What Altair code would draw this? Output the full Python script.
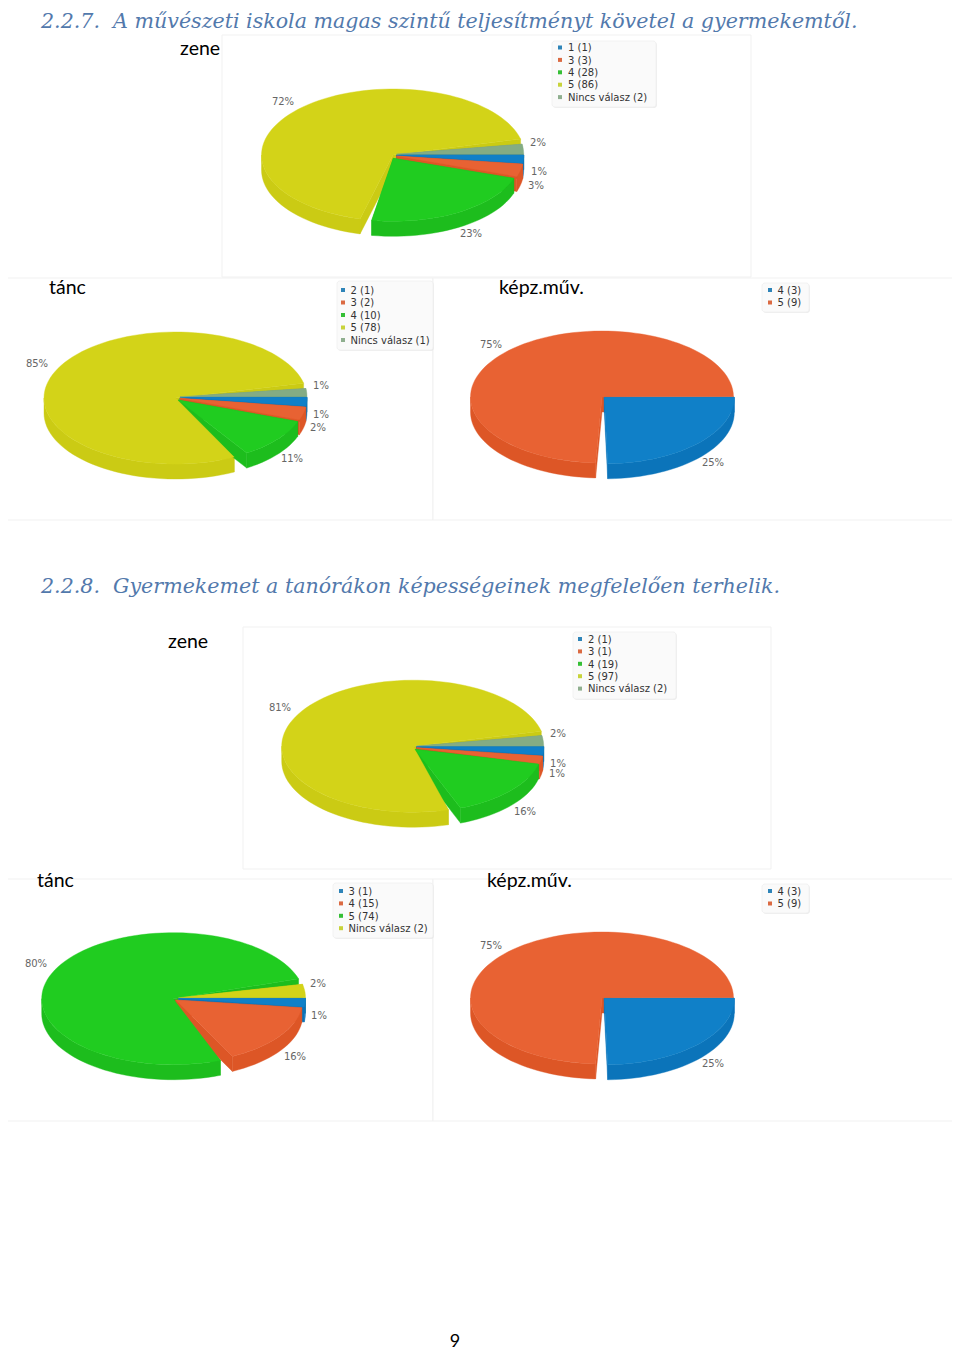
import math
import altair as alt
import pandas as pd

alt.data_transformers.disable_max_rows()

W, H = 960, 1351

# ---- colours ----
BLUE, RED, GREEN, YEL, GRAY = "#1080C8", "#E86233", "#20CC20", "#D3D318", "#84AC84"
DARK = {BLUE: "#0B74BA", RED: "#DD5626", GREEN: "#1DBD1D", YEL: "#CBCB14", GRAY: "#76A076"}
LEGMARK = {BLUE: "#2E84B8", RED: "#DB6A42", GREEN: "#35BF35", YEL: "#C8D33A", GRAY: "#8FAF8F"}

# ---- values ----
legend_1 = ["1 (1)", "3 (3)", "4 (28)", "5 (86)", "Nincs válasz (2)"]
colors_1 = [BLUE, RED, GREEN, YEL, GRAY]
pct_1 = ["1%", "3%", "23%", "72%", "2%"]
angles_1 = [(0, 7.5), (7.3, 19), (18.5, 99.8), (104.5, 346), (-9, 0)]

legend_2 = ["2 (1)", "3 (2)", "4 (10)", "5 (78)", "Nincs válasz (1)"]
colors_2 = [BLUE, RED, GREEN, YEL, GRAY]
pct_2 = ["1%", "2%", "11%", "85%", "1%"]
angles_2 = [(0, 8), (8, 20), (20, 57.4), (63.5, 347), (-7.5, 0)]

legend_3 = ["4 (3)", "5 (9)"]
colors_3 = [BLUE, RED]
pct_3 = ["25%", "75%"]
angles_3 = [(0, 88.5), (92.8, 359.5)]

legend_4 = ["2 (1)", "3 (1)", "4 (19)", "5 (97)", "Nincs válasz (2)"]
colors_4 = [BLUE, RED, GREEN, YEL, GRAY]
pct_4 = ["1%", "1%", "16%", "81%", "2%"]
angles_4 = [(0, 7.5), (7.6, 15), (13.5, 69), (74.5, 347), (-9.5, 0)]

legend_5 = ["3 (1)", "4 (15)", "5 (74)", "Nincs válasz (2)"]
colors_5 = [BLUE, RED, GREEN, YEL]
pct_5 = ["1%", "16%", "80%", "2%"]
angles_5 = [(0, 8), (7, 63.5), (69, 342.5), (-12.3, 0)]

legend_6 = ["4 (3)", "5 (9)"]
colors_6 = [BLUE, RED]
pct_6 = ["25%", "75%"]
angles_6 = [(0, 88.5), (92.8, 359.5)]

headings = ["2.2.7.\u00a0 A művészeti iskola magas szintű teljesítményt követel a gyermekemtől.",
            "2.2.8.\u00a0 Gyermekemet a tanórákon képességeinek megfelelően terhelik."]
names = ["zene", "tánc", "képz.műv.", "zene", "tánc", "képz.műv."]
page_no = ["9"]

# ---- layout ----
heading_pos = [(41, 27.5), (41, 593)]
name_pos = [(180, 55), (49, 294), (499, 294), (168, 648), (37, 887), (487, 887)]
panels = [(222, 35, 751, 277), (6, 278, 433, 520), (433, 278, 960, 520),
          (243, 627, 771, 869), (4, 879, 433, 1121), (433, 879, 960, 1121)]
legboxes = [(552, 41, 656, 107), (337, 281, 433, 350), (762, 283, 809, 312),
            (573, 632, 676, 699), (333, 883, 433, 938), (762, 884, 809, 913)]
legrows = [(560, 568, 47.5, 12.4), (343, 350.5, 290, 12.5), (770, 777.5, 290, 12.5),
           (580, 588, 639, 12.4), (341, 348.5, 891, 12.4), (770, 777.5, 891, 12.5)]
# per slice: cx, cy, rx, ry
R1, R2 = (127, 63), (131.5, 66)
centres = [
    [(396.7, 155, *R1), (396.7, 156, *R1), (393.3, 158.3, *R1), (393, 155, *R2), (396.7, 154, *R1)],
    [(180, 397.3, *R1), (180, 398.3, *R1), (178.3, 400, *R1), (175.5, 398, *R2), (180, 396.7, *R1)],
    [(604.3, 397.3, 130, 66.5), (602, 397, *R2)],
    [(416.7, 746.7, *R1), (416.7, 747.7, *R1), (415, 749.3, *R1), (413.2, 746.2, *R2), (416.7, 746, *R1)],
    [(178.5, 998.3, *R1), (175.7, 1000, *R1), (173.2, 998.7, *R2), (178.5, 997.7, *R1)],
    [(604.3, 998.3, 130, 66.5), (602, 998, *R2)],
]
DEPTH = 15
TEXT_NUDGE = 0.7
pct_pos = [
    [(539, 171), (536, 185), (471, 233), (283, 101), (538, 142)],
    [(321, 414), (318, 427), (292, 458), (37, 363), (321, 385)],
    [(713, 462), (491, 344)],
    [(558, 763), (557, 773), (525, 811), (280, 707), (558, 733)],
    [(319, 1015), (295, 1056), (36, 963), (318, 983)],
    [(713, 1063), (491, 945)],
]

all_legends = [legend_1, legend_2, legend_3, legend_4, legend_5, legend_6]
all_colors = [colors_1, colors_2, colors_3, colors_4, colors_5, colors_6]
all_pct = [pct_1, pct_2, pct_3, pct_4, pct_5, pct_6]
all_angles = [angles_1, angles_2, angles_3, angles_4, angles_5, angles_6]


def rim(c, t0, t1):
    cx, cy, rx, ry = c
    n = max(2, int(abs(t1 - t0) / 3) + 1)
    out = []
    for i in range(n + 1):
        t = math.radians(t0 + (t1 - t0) * i / n)
        out.append((cx + rx * math.cos(t), cy + ry * math.sin(t)))
    return out


rows = []
part = [0]


def poly(points, colour):
    part[0] += 1
    pts = list(points) + [points[0]]
    for i, (x, y) in enumerate(pts):
        rows.append({"part": part[0], "i": i, "x": x, "y": y, "c": colour})


for angs, cols, cen in zip(all_angles, all_colors, centres):
    idx = sorted(range(len(angs)),
                 key=lambda k: math.sin(math.radians((angs[k][0] + angs[k][1]) / 2)))
    # all side walls first, then all top faces over them
    for k in idx:
        t0, t1 = angs[k]
        c = cen[k]
        dk = DARK[cols[k]]
        v = (c[0], c[1])
        for t in (t0, t1):
            e = rim(c, t, t)[0]
            poly([v, e, (e[0], e[1] + DEPTH), (v[0], v[1] + DEPTH)], dk)
        a, b = max(t0, 0), min(t1, 180)
        if b > a:
            top = rim(c, a, b)
            poly(top + [(x, y + DEPTH) for x, y in reversed(top)], dk)
    for k in idx:
        t0, t1 = angs[k]
        c = cen[k]
        poly([(c[0], c[1])] + rim(c, t0, t1), cols[k])

pies_df = pd.DataFrame(rows)

panel_df = pd.DataFrame(panels, columns=["x", "y", "x2", "y2"])
box_df = pd.DataFrame(legboxes, columns=["x", "y", "x2", "y2"])
shadow_df = box_df + 1

lm, lt, pt = [], [], []
for leg, cols, (mx, tx, y0, dy) in zip(all_legends, all_colors, legrows):
    for j, (s, col) in enumerate(zip(leg, cols)):
        lm.append({"x": mx, "y": y0 + j * dy, "c": LEGMARK[col]})
        lt.append({"x": tx, "y": y0 + j * dy + TEXT_NUDGE, "t": s})
for ps, pp in zip(all_pct, pct_pos):
    for s, (x, y) in zip(ps, pp):
        pt.append({"x": x, "y": y + TEXT_NUDGE, "t": s})

X = alt.X("x:Q", scale=alt.Scale(domain=[0, W], range=[0, W], nice=False, zero=False), axis=None)
Y = alt.Y("y:Q", scale=alt.Scale(domain=[0, H], range=[0, H], nice=False, zero=False), axis=None)


def rects(df, **kw):
    return alt.Chart(df).mark_rect(**kw).encode(x=X, y=Y, x2="x2:Q", y2="y2:Q")


panel_layer = rects(panel_df, fill="#ffffff", stroke="#f1f1f1", strokeWidth=1)
shadow_layer = rects(shadow_df, fill="#e6e6e6", cornerRadius=3, opacity=0.7)
box_layer = rects(box_df, fill="#fafafa", stroke="#f2f2f2", strokeWidth=1, cornerRadius=3)

pie_layer = alt.Chart(pies_df).mark_line(strokeWidth=0.4, interpolate="linear").encode(
    x=X, y=Y, order="i:Q", detail="part:O",
    fill=alt.Fill("c:N", scale=None), color=alt.Color("c:N", scale=None),
)

marker_layer = alt.Chart(pd.DataFrame(lm)).mark_square(size=16, opacity=1, filled=True).encode(
    x=X, y=Y, color=alt.Color("c:N", scale=None))
legend_text = alt.Chart(pd.DataFrame(lt)).mark_text(
    font="DejaVu Sans", fontSize=10, align="left", baseline="middle", color="#333333"
).encode(x=X, y=Y, text="t:N")
pct_text = alt.Chart(pd.DataFrame(pt)).mark_text(
    font="DejaVu Sans", fontSize=10, align="center", baseline="middle", color="#666666"
).encode(x=X, y=Y, text="t:N")
heading_df = pd.DataFrame({"x": [p[0] for p in heading_pos], "y": [p[1] for p in heading_pos], "t": headings})
heading_text = alt.Chart(heading_df).mark_text(
    font="DejaVu Serif", fontStyle="italic", fontSize=20.6, align="left", baseline="alphabetic", color="#5279AC"
).encode(x=X, y=Y, text="t:N")
name_df = pd.DataFrame({"x": [p[0] for p in name_pos], "y": [p[1] for p in name_pos], "t": names})
name_text = alt.Chart(name_df).mark_text(
    font="Lato", fontSize=19.5, align="left", baseline="alphabetic", color="#000000"
).encode(x=X, y=Y, text="t:N")
page_text = alt.Chart(pd.DataFrame({"x": [455], "y": [1346.5], "t": page_no})).mark_text(
    font="Lato", fontSize=18, align="center", baseline="alphabetic", color="#000000"
).encode(x=X, y=Y, text="t:N")

chart = alt.layer(
    panel_layer, shadow_layer, box_layer, pie_layer, marker_layer,
    legend_text, pct_text, heading_text, name_text, page_text,
).properties(
    width=W, height=H,
    padding={"left": -8, "top": -8, "right": -8, "bottom": 0},
    autosize=alt.AutoSizeParams(type="none"),
    background="#ffffff",
).configure_view(stroke=None)

chart.save("out.html", embed_options={"renderer": "svg", "actions": False})
